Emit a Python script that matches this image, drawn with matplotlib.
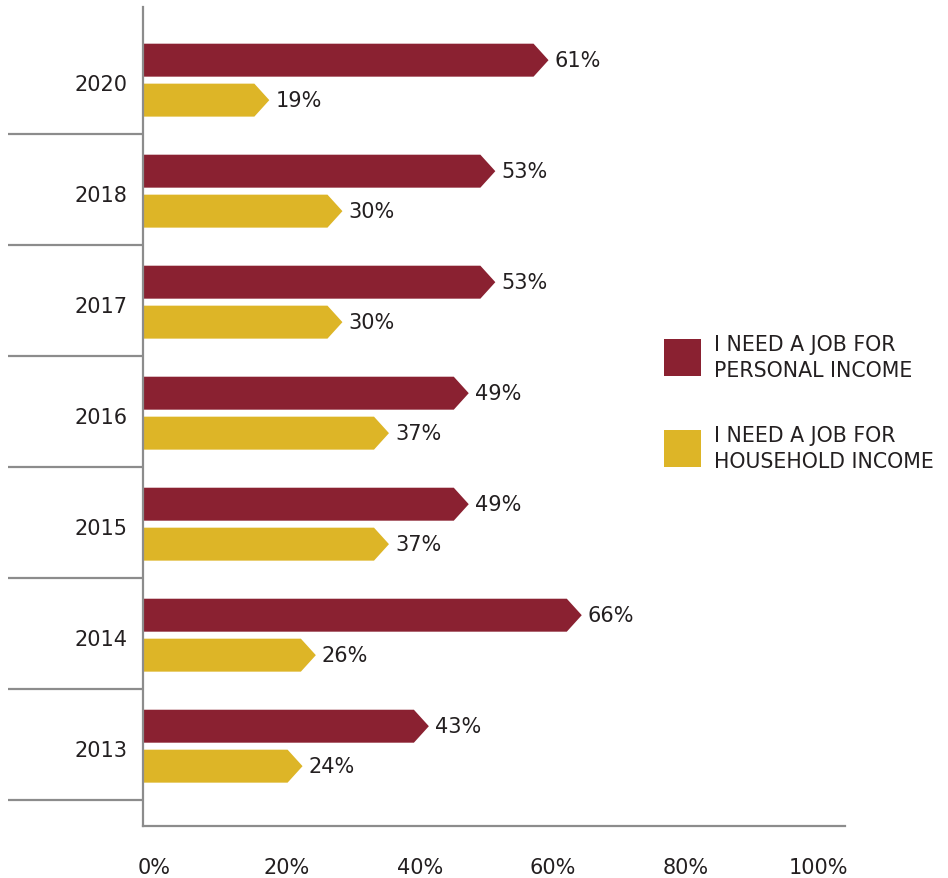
import matplotlib
matplotlib.use("Agg")
import matplotlib.pyplot as plt
import matplotlib.transforms as mtransforms
from matplotlib.patches import Polygon, Rectangle

plt.rcParams['font.family'] = ['DejaVu Sans']

years = ["2020", "2018", "2017", "2016", "2015", "2014", "2013"]
personal = [61, 53, 53, 49, 49, 66, 43]
household = [19, 30, 30, 37, 37, 26, 24]
x_ticks = [0, 20, 40, 60, 80, 100]
series_names = ["I NEED A JOB FOR\nPERSONAL INCOME", "I NEED A JOB FOR\nHOUSEHOLD INCOME"]

RED = "#8a2131"
GOLD = "#ddb527"
GRAY = "#8c8c8c"
TXT = "#231f20"
FS = 15

W, H = 948, 879
fig = plt.figure(figsize=(W / 100, H / 100), dpi=100)
ax = fig.add_axes([143 / W, 52 / H, 702 / W, 819 / H])

ax.set_xlim(0, 105.6)
ax.set_ylim(6.734, -0.644)

bar_h = 0.297
head = 2.25   # length of the arrow point, in percent units


def arrow_bar(ax, y, v, color):
    pts = [(0, y - bar_h / 2), (v - head, y - bar_h / 2), (v, y),
           (v - head, y + bar_h / 2), (0, y + bar_h / 2)]
    ax.add_patch(Polygon(pts, closed=True, facecolor=color, edgecolor="none"))
    ax.text(v + 0.9, y, f"{v}%", ha="left", va="center", fontsize=FS, color=TXT)


for i, (p, h) in enumerate(zip(personal, household)):
    arrow_bar(ax, i - 0.165, p, RED)
    arrow_bar(ax, i + 0.195, h, GOLD)

# spines
for s in ["top", "right"]:
    ax.spines[s].set_visible(False)
for s in ["left", "bottom"]:
    ax.spines[s].set_color(GRAY)
    ax.spines[s].set_linewidth(1.6)

# separators between years, to the left of the axis
sep_tr = mtransforms.blended_transform_factory(ax.transAxes, ax.transData)
for i in range(len(years)):
    ax.plot([-0.192, 0], [i + 0.5, i + 0.5], color=GRAY, lw=1.6,
            transform=sep_tr, clip_on=False, solid_capstyle="butt")

ax.set_yticks([i + 0.03 for i in range(len(years))])
ax.set_yticklabels(years, fontsize=FS, color=TXT)
ax.tick_params(axis="y", length=0, pad=11)

ax.set_xticks(x_ticks)
ax.set_xticklabels([f"{t}%" for t in x_ticks], fontsize=FS, color=TXT)
ax.tick_params(axis="x", length=0, pad=22)
shift = mtransforms.ScaledTranslation(11 / 100, 0, fig.dpi_scale_trans)
for lab in ax.get_xticklabels():
    lab.set_transform(lab.get_transform() + shift)

# legend
for k, (name, color) in enumerate(zip(series_names, [RED, GOLD])):
    top = 340 + k * 91
    fig.patches.append(Rectangle((664 / W, 1 - (top + 37) / H), 37 / W, 37 / H,
                                 transform=fig.transFigure, facecolor=color,
                                 edgecolor="none"))
    fig.text(714 / W, 1 - (top + 18) / H, name, ha="left", va="center",
             fontsize=14.8, color=TXT, linespacing=1.4)

fig.savefig("out.png", dpi=100)
